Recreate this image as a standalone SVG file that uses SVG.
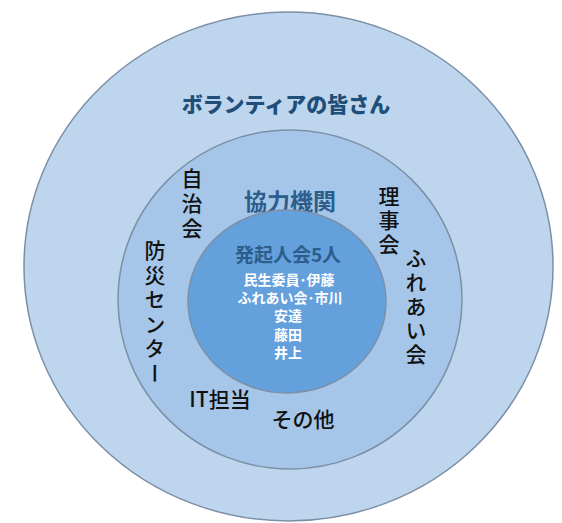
<svg xmlns="http://www.w3.org/2000/svg" width="562" height="523" viewBox="0 0 562 523">
<style>
.ring{stroke:#7d8fa6;stroke-width:1.5}
.jp{font-family:"Noto Sans CJK JP","Noto Sans CJK SC",sans-serif}
.title{font-weight:900;fill:#1f4e79}
.mid{font-weight:700;fill:#2c5d8b}
.lbl{font-weight:500;fill:#111111;font-size:21px}
.vert{writing-mode:vertical-rl}
.white{font-family:"Liberation Sans","Noto Sans CJK JP","Noto Sans CJK SC",sans-serif;font-weight:700;fill:#ffffff;font-size:14px}
</style>
<rect width="562" height="523" fill="#ffffff"/>
<g id="outer">
<ellipse class="ring" cx="288.5" cy="266.5" rx="264.5" ry="254.5" fill="#bdd6ed"/>
<text class="jp title" x="286" y="112" font-size="21" text-anchor="middle">ボランティアの皆さん</text>
</g>
<g id="middle">
<ellipse class="ring" cx="290" cy="299.5" rx="172" ry="169.5" fill="#a5c6e8"/>
<text class="jp mid" x="290" y="210" font-size="23" text-anchor="middle">協力機関</text>
<text class="jp lbl vert" x="192" y="168" letter-spacing="4">自治会</text>
<text class="jp lbl vert" x="155" y="240" letter-spacing="3.5">防災センター</text>
<text class="jp lbl vert" x="389" y="186" letter-spacing="3">理事会</text>
<text class="jp lbl vert" x="416" y="248" letter-spacing="3">ふれあい会</text>
<text class="jp lbl" x="220" y="407" text-anchor="middle">IT担当</text>
<text class="jp lbl" x="303" y="427" text-anchor="middle">その他</text>
</g>
<g id="inner">
<ellipse class="ring" cx="287" cy="301.5" rx="99" ry="91.5" fill="#64a0dc"/>
<text class="jp mid" x="288" y="262" font-size="19" text-anchor="middle">発起人会5人</text>
<text class="white" x="289" y="285" text-anchor="middle">民生委員･伊藤</text>
<text class="white" x="290" y="303" text-anchor="middle">ふれあい会･市川</text>
<text class="white" x="288" y="321" text-anchor="middle">安達</text>
<text class="white" x="288" y="340" text-anchor="middle">藤田</text>
<text class="white" x="288" y="358" text-anchor="middle">井上</text>
</g>
</svg>
